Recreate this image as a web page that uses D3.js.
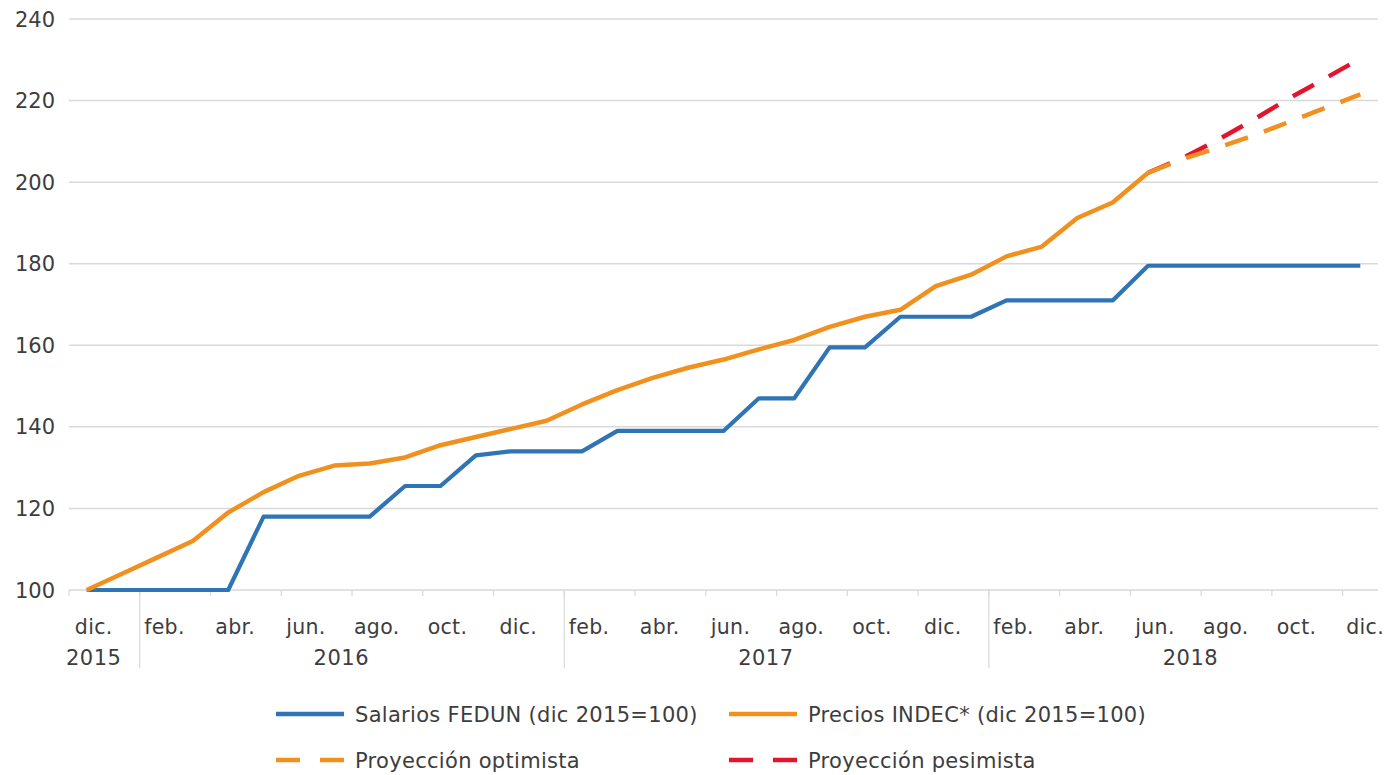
<!DOCTYPE html>
<html>
<head>
<meta charset="utf-8">
<script src="https://cdn.jsdelivr.net/npm/d3@7"></script>
<style>
  html, body { margin: 0; padding: 0; background: #ffffff; }
  svg { display: block; }
  text { font-family: "DejaVu Sans", sans-serif; fill: #3d3d3d; }
</style>
</head>
<body>
<svg id="chart" width="1386" height="775"></svg>
<script>
// ---- data ----
const months = ["dic.","ene.","feb.","mar.","abr.","may.","jun.","jul.","ago.","sep.","oct.","nov.",
                "dic.","ene.","feb.","mar.","abr.","may.","jun.","jul.","ago.","sep.","oct.","nov.",
                "dic.","ene.","feb.","mar.","abr.","may.","jun.","jul.","ago.","sep.","oct.","nov.","dic."];
const years = ["2015","2016","2017","2018"];
// category groups as drawn on the axis (first labelled month of each year group)
const yearGroupStart = [0, 2, 14, 26];
const yTicks = [100,120,140,160,180,200,220,240];

const salarios = [100,100,100,100,100,118,118,118,118,125.5,125.5,133,134,134,134,139,139,139,139,
                  147,147,159.5,159.5,167,167,167,171,171,171,171,179.5,179.5,179.5,179.5,179.5,179.5,179.5];
const precios  = [100,104,108,112,119,124,128,130.5,131,132.5,135.5,137.5,139.5,141.5,145.5,149,152,
                  154.5,156.5,159,161.3,164.5,167,168.7,174.5,177.3,181.8,184.2,191.2,195,202.3];
const projStart = 30; // jun. 2018
const optimista = [202.3,205.7,208.5,211.5,214.8,218.2,221.5];
const pesimista = [202.3,206,210.5,215.4,220.6,225.4,230.3];

const seriesNames = ["Salarios FEDUN (dic 2015=100)","Precios INDEC* (dic 2015=100)",
                     "Proyección optimista","Proyección pesimista"];

// ---- drawing ----
const svg = d3.select("#chart");
const colBlue = "#2f74b5", colOrange = "#f0911f", colRed = "#e2152f", colGrid = "#d9d9d9";

const x = d3.scaleLinear().domain([-0.5, months.length - 0.5]).range([69, 1378]);
const y = d3.scaleLinear().domain([100, 240]).range([590, 19]);

// gridlines
svg.append("g").selectAll("line").data(yTicks.filter(d => d > 100)).join("line")
  .attr("x1", x(-0.5)).attr("x2", x(months.length - 0.5))
  .attr("y1", d => y(d)).attr("y2", d => y(d))
  .attr("stroke", colGrid).attr("stroke-width", 1.5);

// y labels
svg.append("g").selectAll("text").data(yTicks).join("text")
  .attr("x", 55).attr("y", d => y(d)).attr("dy", "0.36em")
  .attr("text-anchor", "end").attr("font-size", 21).text(d => d);

// x axis line
svg.append("line").attr("x1", x(-0.5)).attr("x2", x(months.length - 0.5))
  .attr("y1", y(100)).attr("y2", y(100)).attr("stroke", colGrid).attr("stroke-width", 1.5);

// minor ticks every 2 months
const tickPos = d3.range(-0.5, months.length, 2);
svg.append("g").selectAll("line").data(tickPos).join("line")
  .attr("x1", d => x(d)).attr("x2", d => x(d))
  .attr("y1", y(100)).attr("y2", y(100) + 6)
  .attr("stroke", colGrid).attr("stroke-width", 1.2);

// year separators
svg.append("g").selectAll("line").data(yearGroupStart.slice(1)).join("line")
  .attr("x1", d => x(d - 0.5)).attr("x2", d => x(d - 0.5))
  .attr("y1", y(100)).attr("y2", 668)
  .attr("stroke", colGrid).attr("stroke-width", 1.2);

// month labels (every 2nd month)
const labelIdx = d3.range(0, months.length, 2);
const labelX = i => x(i) + 7;
svg.append("g").selectAll("text").data(labelIdx).join("text")
  .attr("x", d => labelX(d)).attr("y", 627).attr("dy", "0.36em")
  .attr("text-anchor", "middle").attr("font-size", 20.5).attr("letter-spacing", 0.3)
  .text(d => months[d])
  .each(function () {
    // keep the last label inside the picture
    const w = this.getComputedTextLength();
    const cx = +this.getAttribute("x");
    if (cx + w / 2 > 1384) this.setAttribute("x", 1384 - w / 2);
  });

// year labels, centred over their month labels
svg.append("g").selectAll("text").data(years).join("text")
  .attr("x", (d, k) => {
    const end = k + 1 < yearGroupStart.length ? yearGroupStart[k + 1] : months.length;
    const idx = labelIdx.filter(i => i >= yearGroupStart[k] && i < end);
    return d3.mean(idx, labelX);
  })
  .attr("y", 657).attr("dy", "0.36em")
  .attr("text-anchor", "middle").attr("font-size", 21).attr("letter-spacing", 0.5).text(d => d);

// lines
const line = d3.line().x(d => x(d[0])).y(d => y(d[1]));
const sal = salarios.map((v, i) => [i, v]);
const pre = precios.map((v, i) => [i, v]);
const opt = optimista.map((v, i) => [projStart + i, v]);
const pes = pesimista.map((v, i) => [projStart + i, v]);

svg.append("path").datum(pes).attr("d", line).attr("fill", "none")
  .attr("stroke", colRed).attr("stroke-width", 4.5).attr("stroke-dasharray", "24,17");
svg.append("path").datum(opt).attr("d", line).attr("fill", "none")
  .attr("stroke", colOrange).attr("stroke-width", 4.5).attr("stroke-dasharray", "24,17");
svg.append("path").datum(sal).attr("d", line).attr("fill", "none")
  .attr("stroke", colBlue).attr("stroke-width", 4.2).attr("stroke-linejoin", "round");
svg.append("path").datum(pre).attr("d", line).attr("fill", "none")
  .attr("stroke", colOrange).attr("stroke-width", 4.5).attr("stroke-linejoin", "round");

// legend
const legendItems = [
  {name: seriesNames[0], color: colBlue,   dash: null,    lx: 276, ly: 714},
  {name: seriesNames[1], color: colOrange, dash: null,    lx: 729, ly: 714},
  {name: seriesNames[2], color: colOrange, dash: "24,20", lx: 276, ly: 760},
  {name: seriesNames[3], color: colRed,    dash: "24,20", lx: 729, ly: 760}
];
const lg = svg.append("g").selectAll("g").data(legendItems).join("g")
  .attr("transform", d => `translate(${d.lx},${d.ly})`);
lg.append("line").attr("x1", 0).attr("x2", 68).attr("y1", 0).attr("y2", 0)
  .attr("stroke", d => d.color).attr("stroke-width", 4.5)
  .attr("stroke-dasharray", d => d.dash);
lg.append("text").attr("x", 79).attr("y", 0).attr("dy", "0.36em")
  .attr("font-size", 21).attr("letter-spacing", 0.3).text(d => d.name);
</script>
</body>
</html>
